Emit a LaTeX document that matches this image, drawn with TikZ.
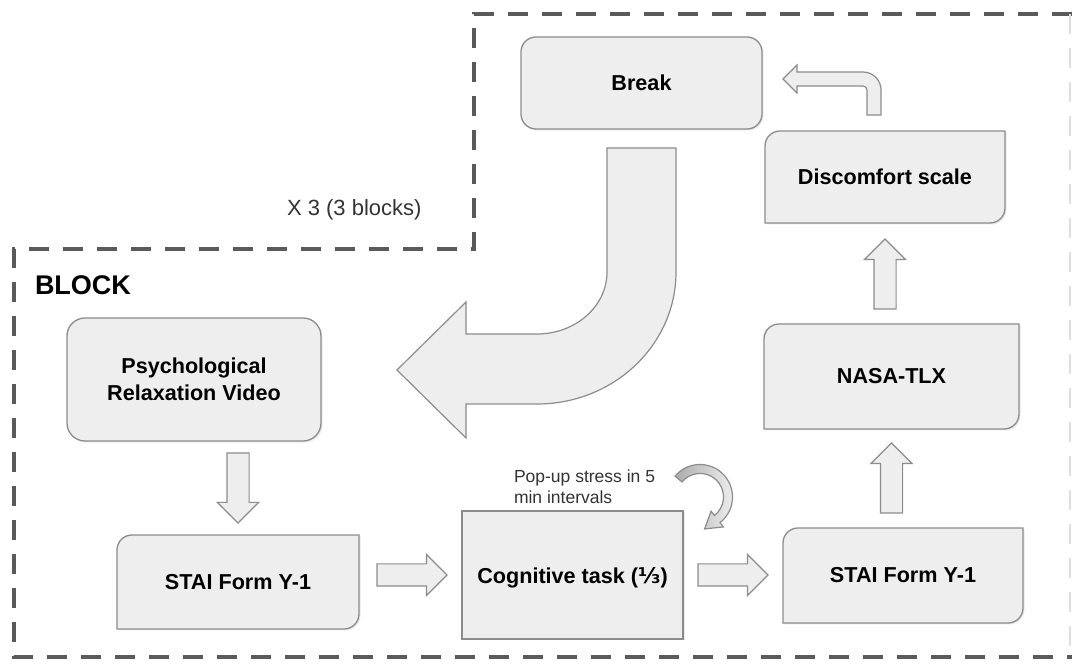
\documentclass[tikz,border=0pt]{standalone}
\usepackage{fontspec}
\setmainfont{Liberation Sans}
\newfontfamily\fracfont{DejaVu Sans}
\usetikzlibrary{calc, shapes.arrows, shadows, backgrounds}

\definecolor{boxfill}{HTML}{EEEEEE}
\definecolor{boxedge}{HTML}{8C8C8C}
\definecolor{dashgray}{HTML}{5A5A5A}

% box with rounded top-left and bottom-right corners, drawn round a node
\newcommand{\diagshape}[2][15pt]{%
  \filldraw[box] ([xshift=#1]#2.north west) -- (#2.north east) -- ([yshift=#1]#2.south east)
    arc[start angle=0, end angle=-90, radius=#1] -- (#2.south west) -- ([yshift=-#1]#2.north west)
    arc[start angle=180, end angle=90, radius=#1] -- cycle;}

\begin{document}
\begin{tikzpicture}[
    x=1pt, y=1pt,
    every node/.style={align=center, inner sep=0pt, outer sep=0pt, font=\fontsize{21.6}{27}\selectfont\bfseries},
    box/.style={fill=boxfill, draw=boxedge, line width=1.3pt, drop shadow={opacity=0.18, shadow xshift=1.5pt, shadow yshift=-1.5pt}},
    roundbox/.style={box, rounded corners=16pt},
    blockarrow/.style={single arrow, anchor=tail, fill=boxfill, draw=boxedge, line width=1.2pt, inner xsep=0pt, inner ysep=10.5pt, minimum height=70pt, minimum width=40pt, single arrow head extend=9.5pt, single arrow tip angle=90},
    curvearrow/.style={fill=boxfill, draw=boxedge, line width=1.2pt},
    note/.style={anchor=base west, text=black!80, font=\fontsize{22}{26}\selectfont}
]
\useasboundingbox (0,0) rectangle (1072,664);

% Outline of the repeated block
\draw[dashgray, line width=4pt, dash pattern=on 20pt off 14pt] (1072,650) -- (474,650) -- (474,415) -- (14,415) -- (14,7) -- (1072,7);
\draw[gray!25, line width=2pt, dash pattern=on 20pt off 14pt] (1070,650) -- (1070,7);

\node[note] (reps) at (287,448) {X 3 (3 blocks)};
\node[note, text=black, font=\fontsize{27}{30}\selectfont\bfseries] (blocklbl) at (35,369) {BLOCK};

% Nodes
\node[roundbox, minimum width=241pt, minimum height=92pt, rounded corners=15pt] (brk) at (641.5,581) {Break};
\node[minimum width=240pt, minimum height=92pt] (disc) at (885,487) {Discomfort scale};
\node[minimum width=255pt, minimum height=105pt] (nasa) at (891.5,287.5) {NASA-TLX};
\node[roundbox, minimum width=254pt, minimum height=123pt, rounded corners=18pt] (psych) at (194,284.5) {Psychological\\Relaxation Video};
\node[minimum width=242pt, minimum height=94pt] (stail) at (238,82) {STAI Form Y-1};
\node[box, minimum width=221pt, minimum height=128pt, text depth=0pt] (cog) at (572.5,89) {Cognitive task ({\fracfont\bfseries ⅓})};
\node[minimum width=240pt, minimum height=95pt] (stair) at (903,88.5) {STAI Form Y-1};
\node[note, anchor=north west, align=left, font=\fontsize{17.5}{21}\selectfont] (popup) at (514,194) {Pop-up stress in 5\\min intervals};

\begin{scope}[on background layer]
  \foreach \n in {disc, nasa, stail, stair} \diagshape{\n};
\end{scope}

% Edges
\node[blockarrow, rotate=-90] (a1) at ([yshift=-12]psych.south -| stail.north) {};
\node[blockarrow] (a2) at ([xshift=18]stail.east |- cog.west) {};
\node[blockarrow] (a3) at ([xshift=15]cog.east) {};
\node[blockarrow, rotate=90] (a4) at ([yshift=15]stair.north -| nasa.south) {};
\node[blockarrow, rotate=90] (a5) at ([yshift=15]nasa.north -| disc.south) {};

\coordinate (utail) at ([shift={(-18,16)}]disc.north);
\filldraw[curvearrow] (utail) -- ++(14,0) -- ++(0,25) arc[start angle=0, end angle=90, radius=18]
  -- ++(-66,0) -- ++(0,7) -- ++(-14,-14) -- ++(14,-14) -- ++(0,7) -- ++(66,0)
  arc[start angle=90, end angle=0, radius=4] -- cycle;

\coordinate (bigtop) at ([shift={(-34.5,-19)}]brk.south);
\filldraw[curvearrow] (bigtop) -- ++(69,0) -- ++(0,-124) arc[start angle=0, end angle=-90, x radius=139, y radius=132]
  -- ++(-71,0) -- ++(0,-34) -- ++(-69,68) -- ++(69,68) -- ++(0,-32) -- ++(71,0)
  arc[start angle=-90, end angle=0, x radius=70, y radius=62] -- cycle;

\coordinate (pc) at ([shift={(17,14)}]cog.north east);
\draw[curvearrow, left color=gray!65, right color=boxfill] ($(pc)+(140:32.5)$) arc[start angle=140, end angle=-52, radius=32.5]
  -- ($(pc)+(-52:38)$) -- ($(pc)+(-52:28)+(-142:16)$) -- ($(pc)+(-52:18)$) -- ($(pc)+(-52:23.5)$)
  arc[start angle=-52, end angle=140, radius=23.5] -- cycle;

\end{tikzpicture}
\end{document}
